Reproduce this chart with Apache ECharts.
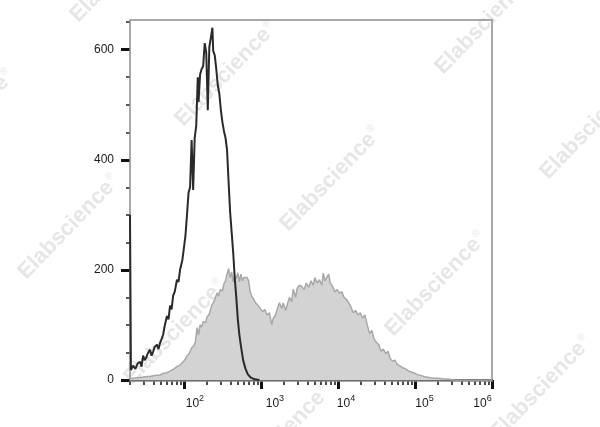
<!DOCTYPE html>
<html><head><meta charset="utf-8">
<script src="https://cdn.jsdelivr.net/npm/echarts@6/dist/echarts.min.js"></script>
<style>html,body{margin:0;padding:0;background:#fff}#c{width:600px;height:427px}</style>
</head><body><div id="c"></div>
<script>
// ---- data (x in decades: value = 10^x) ----
const blackDecade = [1.300,1.312,1.34,1.37,1.40,1.43,1.45,1.47,1.49,1.51,1.53,1.56,1.58,1.60,1.62,1.65,1.67,1.69,1.71,1.73,1.75,1.78,1.80,1.82,1.84,1.86,1.88,1.91,1.93,1.95,1.98,2.00,2.02,2.04,2.06,2.08,2.10,2.12,2.14,2.16,2.18,2.19,2.21,2.23,2.25,2.27,2.29,2.31,2.33,2.35,2.37,2.38,2.40,2.42,2.44,2.46,2.48,2.50,2.52,2.54,2.56,2.58,2.60,2.62,2.64,2.66,2.68,2.70,2.72,2.74,2.77,2.80,2.83,2.87,2.92,2.98];
const blackCount  = [300,18,26,20,30,33,24,44,36,40,48,55,44,51,60,64,56,67,74,82,98,116,110,135,128,153,160,182,178,200,218,240,262,300,340,350,436,345,440,462,550,505,555,565,570,612,595,490,605,622,640,598,590,565,535,520,490,468,452,440,418,360,305,268,231,185,150,110,82,62,35,20,10,4,1,0];

const grayDecade = [1.30,1.34,1.40,1.46,1.52,1.56,1.62,1.69,1.74,1.78,1.82,1.87,1.91,1.95,1.99,2.02,2.04,2.07,2.10,2.13,2.15,2.17,2.19,2.21,2.23,2.25,2.28,2.30,2.33,2.36,2.38,2.40,2.43,2.45,2.47,2.50,2.52,2.54,2.56,2.58,2.60,2.62,2.64,2.66,2.68,2.70,2.72,2.74,2.76,2.78,2.82,2.84,2.86,2.88,2.90,2.93,2.96,2.99,3.02,3.05,3.08,3.11,3.14,3.16,3.19,3.21,3.24,3.27,3.29,3.32,3.34,3.37,3.40,3.42,3.45,3.47,3.50,3.53,3.56,3.59,3.62,3.65,3.68,3.70,3.73,3.76,3.79,3.81,3.83,3.85,3.88,3.90,3.93,3.96,3.99,4.02,4.05,4.08,4.11,4.14,4.17,4.20,4.23,4.26,4.29,4.32,4.35,4.38,4.41,4.44,4.47,4.50,4.53,4.56,4.59,4.62,4.65,4.68,4.71,4.74,4.77,4.80,4.84,4.88,4.92,4.96,5.00,5.04,5.08,5.12,5.16,5.20,5.25,5.30,5.36,5.44,5.52,6.00];
const grayCount  = [2,3,4,5,6,6,8,9,12,13,16,20,24,27,33,38,44,48,58,62,70,95,82,100,96,106,104,114,120,135,140,146,158,152,164,162,175,180,192,202,186,196,178,190,184,195,178,192,180,186,186,180,160,152,148,140,136,130,124,128,118,122,100,112,118,128,140,130,140,126,136,150,142,165,150,166,172,170,164,176,168,180,172,186,176,182,172,194,180,178,192,176,170,160,164,158,160,150,146,140,132,122,126,118,122,112,118,100,84,90,74,68,64,52,56,48,52,38,34,36,28,26,22,20,16,14,12,9,8,6,5,4,3,3,2,1,0,0];

const xMajorDecades = [2,3,4,5,6];
const xMinorMultipliers = [2,3,4,5,6,7,8,9];
const yMajorTicks = [0,200,400,600];
const yMinorTicks = [0,50,100,150,200,250,300,350,400,450,500,550,600,650];
const watermarkText = 'Elabscience';

// ---- build ----
const xMin = 1.30, xMax = 6.0, yMin = -2, yMax = 654;
const xMinorTicks = [];
for (let d = 1; d <= 5; d++) for (const m of xMinorMultipliers) {
  const v = Math.log10(m * Math.pow(10, d));
  if (v >= xMin && v <= xMax) xMinorTicks.push(v);
}
const blackData = blackDecade.map((x, i) => [x, blackCount[i]]);
const grayData = grayDecade.map((x, i) => [x, grayCount[i]]);

const font = 'Arial, "Liberation Sans", sans-serif';
const txt = '#1a1a1a';
const labelShift = {2: 11, 3: 14, 4: 8, 5: 9.5, 6: -9.5};
const rich = {};
xMajorDecades.forEach(k => {
  const s = labelShift[k];
  rich['b' + k] = {fontSize: 12, fontFamily: font, color: txt, verticalAlign: 'bottom', padding: [0, 0, 0, s > 0 ? 2 * s : 0]};
  rich['s' + k] = {fontSize: 9, fontFamily: font, color: txt, verticalAlign: 'bottom', padding: [0, s < 0 ? -2 * s : 0, 7, 0]};
});

const wmCenters = [[-36,122],[69,227],[175,332],[280,437],[121,-30],[226,74],[331,179],[436,284],[541,388],[486,22],[591,127]];
const graphics = wmCenters.map(c => ({
  type: 'text', x: c[0], y: c[1], rotation: 46 * Math.PI / 180, z: 0, silent: true,
  style: {
    text: '{w|' + watermarkText + '}{r|®}', align: 'center', verticalAlign: 'middle',
    rich: {
      w: {fontSize: 22, fontWeight: 'bold', fontFamily: font, fill: '#e6e6e6', color: '#e6e6e6'},
      r: {fontSize: 10, fontFamily: font, fill: '#e6e6e6', color: '#e6e6e6', verticalAlign: 'top', padding: [0,0,12,1]}
    }
  }
}));

const chart = echarts.init(document.getElementById('c'));
chart.setOption({
  animation: false,
  backgroundColor: '#fff',
  graphic: graphics,
  grid: {left: 130, right: 108, top: 20, bottom: 46, show: true, borderColor: '#8c8c8c', borderWidth: 1.5, z: 1},
  xAxis: [
    {type: 'value', min: xMin, max: xMax, position: 'bottom',
     axisLine: {show: true, lineStyle: {color: '#111', width: 2}},
     axisTick: {show: true, customValues: xMinorTicks, length: 5, lineStyle: {color: '#111', width: 1.5}},
     axisLabel: {show: false}, splitLine: {show: false}},
    {type: 'value', min: xMin, max: xMax, position: 'bottom',
     axisLine: {show: false},
     axisTick: {show: true, customValues: xMajorDecades, length: 9, lineStyle: {color: '#111', width: 3}},
     axisLabel: {show: true, customValues: xMajorDecades, margin: 13, align: 'center',
       formatter: v => { const k = Math.round(v); return '{b' + k + '|10}{s' + k + '|' + k + '}'; },
       rich: rich},
     splitLine: {show: false}}
  ],
  yAxis: [
    {type: 'value', min: yMin, max: yMax, position: 'left',
     axisLine: {show: false},
     axisTick: {show: true, customValues: yMinorTicks, length: 4, lineStyle: {color: '#222', width: 1.5}},
     axisLabel: {show: false}, splitLine: {show: false}},
    {type: 'value', min: yMin, max: yMax, position: 'left',
     axisLine: {show: false},
     axisTick: {show: true, customValues: yMajorTicks, length: 9, lineStyle: {color: '#111', width: 3}},
     axisLabel: {show: true, customValues: yMajorTicks, margin: 16, fontSize: 12, fontFamily: font, color: txt},
     splitLine: {show: false}}
  ],
  series: [
    {type: 'line', data: grayData, symbol: 'none', z: 2,
     lineStyle: {color: '#a8a8a8', width: 1.5}, areaStyle: {color: '#d3d3d3', opacity: 1}},
    {type: 'line', data: blackData, symbol: 'none', z: 3,
     lineStyle: {color: '#2a2a2a', width: 2}}
  ]
});
</script></body></html>
